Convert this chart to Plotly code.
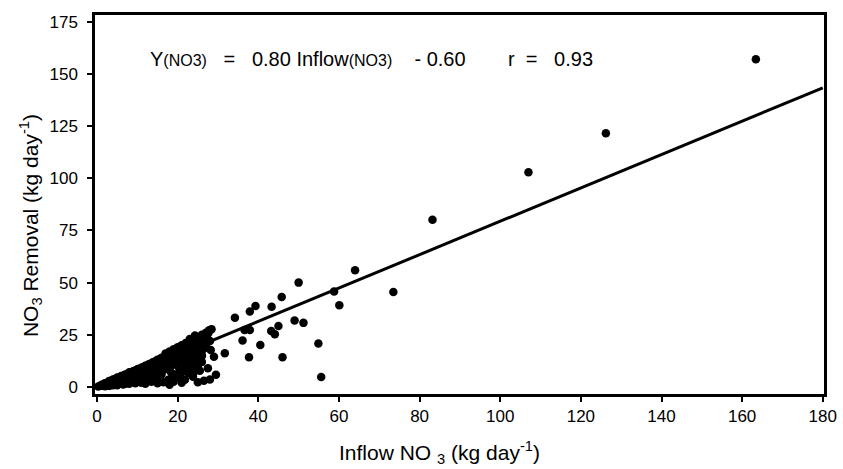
import plotly.graph_objects as go

# Inflow NO3 (kg/day) and NO3 removal (kg/day)
inflow = [
    # dense band, upper edge
    0.3, 0.8, 1.2, 1.8, 2.3, 3.0, 3.5, 4.0, 4.6, 5.3, 6.0, 6.7, 7.4, 8.1, 8.9, 9.6,
    10.4, 11.2, 12.0, 12.8, 13.6, 14.5, 15.4, 16.3, 17.2, 18.1, 19.0, 19.8, 20.6,
    21.4, 22.2, 23.0, 23.8, 24.5, 25.2, 26.0, 27.0, 27.8, 24.3, 27.6, 28.4,
    # dense band, middle
    1.0, 2.0, 3.2, 4.3, 5.6, 7.0, 8.5, 9.2, 10.0, 10.8, 11.6, 12.4, 13.2, 14.0,
    15.0, 15.9, 16.8, 17.7, 18.6, 19.5, 20.5, 21.5, 22.5, 23.5, 24.5, 25.3,
    2.0, 3.0, 4.0, 5.0, 6.0, 7.0, 8.0, 9.0, 10.0, 11.0, 12.0, 13.0, 14.0, 15.0,
    16.0, 17.0, 18.0, 19.0, 20.0, 21.0, 22.0, 23.0, 24.0, 25.0, 26.0, 27.0, 28.0,
    22.0, 23.0, 25.0, 26.0, 27.0,
    # dense band, lower edge
    1.5, 2.6, 3.8, 5.0, 6.3, 7.8, 9.0, 10.2, 11.0, 12.2, 13.4, 14.6, 15.6, 16.6,
    17.5, 18.4, 19.3, 20.2, 21.2, 22.3, 23.4, 24.5, 25.6, 26.4,
    13.0, 14.0, 15.0, 16.0, 17.0, 18.0, 19.0, 20.0, 21.0, 21.0, 22.0, 23.0, 23.0,
    24.0, 25.0, 25.0, 26.0,
    # close to the axis
    5.0, 8.0, 11.0, 13.5, 16.5, 19.0, 6.5, 9.5, 2.0, 3.0, 4.0, 7.0, 10.0, 12.0,
    15.0, 18.0, 21.0, 25.0, 28.0,
    # scatter under the band
    16.1, 17.7, 20.6, 22.7, 19.0, 14.9, 23.8, 21.8, 25.5, 26.5, 29.5, 29.0, 28.2,
    31.7, 12.5, 10.5, 18.5, 24.0, 26.0, 27.5, 22.0, 20.5,
    # mid range
    34.2, 37.9, 39.3, 43.3, 45.8, 50.0, 49.0, 51.2, 45.0, 43.2, 44.1, 36.6, 37.9,
    36.1, 40.5, 54.9, 37.7, 46.0, 55.6, 64.0, 73.5, 58.8, 60.1,
    # high loads
    83.2, 107.0, 126.2, 163.4,
]
removal = [
    0.2, 0.6, 1.0, 1.5, 1.9, 2.5, 2.9, 3.4, 3.8, 4.4, 5.0, 5.6, 6.1, 6.8, 7.4, 8.0,
    8.7, 9.4, 10.1, 10.8, 11.5, 12.3, 13.1, 13.9, 14.8, 15.6, 16.5, 17.2, 18.1,
    19.0, 19.8, 20.6, 21.5, 22.6, 23.8, 25.0, 26.0, 27.2, 24.6, 25.7, 27.7,
    0.6, 1.3, 2.0, 2.8, 3.6, 4.6, 5.8, 6.4, 6.5, 7.2, 7.8, 8.5, 9.0, 9.8,
    10.6, 11.0, 11.9, 12.5, 13.4, 14.2, 15.0, 16.0, 17.1, 18.0, 19.0, 20.3,
    1.8, 2.8, 3.6, 4.5, 5.2, 6.0, 7.0, 7.5, 8.5, 9.0, 10.0, 11.0, 12.0, 13.0,
    14.0, 16.0, 17.0, 18.0, 19.0, 20.0, 21.0, 23.0, 20.0, 22.0, 21.0, 22.0, 22.0,
    11.0, 12.0, 10.0, 15.0, 20.0,
    0.5, 1.0, 1.6, 2.2, 2.8, 3.5, 4.2, 4.6, 5.2, 5.5, 6.2, 6.8, 7.5, 8.4,
    9.0, 10.2, 11.0, 11.8, 12.6, 13.3, 14.5, 15.8, 17.0, 18.2,
    7.0, 5.0, 8.0, 6.0, 10.0, 8.0, 6.0, 10.0, 7.0, 14.0, 11.0, 9.0, 12.0,
    7.0, 13.0, 10.0, 15.0,
    0.8, 1.5, 2.0, 2.5, 2.2, 2.5, 1.2, 1.8, 0.3, 0.5, 0.8, 1.5, 2.5, 1.5,
    1.8, 1.0, 2.0, 2.2, 3.5,
    9.7, 3.4, 4.1, 6.6, 12.1, 4.1, 4.9, 3.4, 7.8, 2.9, 5.8, 14.5, 17.7,
    16.1, 3.0, 3.5, 6.5, 10.5, 12.0, 9.0, 9.0, 8.0,
    33.2, 36.1, 38.8, 38.4, 43.1, 50.0, 31.8, 30.7, 29.2, 26.8, 25.3, 27.3, 27.3,
    22.2, 20.1, 20.8, 14.2, 14.2, 4.8, 55.9, 45.5, 45.7, 39.2,
    80.1, 102.9, 121.6, 157.1,
]

# regression reported on the chart
slope = 0.80
intercept = -0.60
r_value = 0.93
fit_x = [0, 180]
fit_y = [slope * v + intercept for v in fit_x]

x_ticks = [0, 20, 40, 60, 80, 100, 120, 140, 160, 180]
y_ticks = [0, 25, 50, 75, 100, 125, 150, 175]

fig = go.Figure()
fig.add_trace(go.Scatter(
    x=inflow, y=removal, mode='markers',
    marker=dict(color='black', size=8.5, line=dict(width=0)),
    showlegend=False, hoverinfo='skip'
))
fig.add_trace(go.Scatter(
    x=fit_x, y=fit_y, mode='lines',
    line=dict(color='black', width=3),
    showlegend=False, hoverinfo='skip'
))

# equation text
sp = '&nbsp;'
small = '<span style="font-size:16px">(NO3)</span>'
eq = (f"Y{small}{sp*3}={sp*3}{slope:.2f}{sp}Inflow{small}{sp*4}-{sp}"
      f"{abs(intercept):.2f}")
fig.add_annotation(
    x=12.6, y=157.0, xref='x', yref='y', xanchor='left', yanchor='middle',
    text=eq, showarrow=False, font=dict(size=20, color='black')
)
fig.add_annotation(
    x=101.5, y=157.0, xref='x', yref='y', xanchor='left', yanchor='middle',
    text=f"r{sp*2}={sp*3}{r_value:.2f}", showarrow=False,
    font=dict(size=20, color='black')
)

# axis titles as annotations, placed from the plot area edges
fig.add_annotation(
    x=0.472, y=0, xref='paper', yref='paper', yshift=-58,
    xanchor='center', yanchor='middle', showarrow=False,
    text='Inflow NO <sub>3</sub> (kg day<sup>-1</sup>)',
    font=dict(size=21, color='black')
)
fig.add_annotation(
    x=0, y=0.443, xref='paper', yref='paper', xshift=-65,
    xanchor='center', yanchor='middle', showarrow=False, textangle=-90,
    text='NO<sub>3</sub> Removal (kg day<sup>-1</sup>)',
    font=dict(size=21, color='black')
)

axis_common = dict(
    showgrid=False, zeroline=False, showline=True, linecolor='black',
    linewidth=2.5, mirror=True, ticks='outside', tickcolor='black',
    ticklen=5, tickwidth=2, tickfont=dict(size=17, color='black'),
    automargin=False,
)
fig.update_xaxes(range=[-0.5, 180.3], tickvals=x_ticks, **axis_common)
fig.update_yaxes(range=[-3.4, 178.3], tickvals=y_ticks, ticklabelstandoff=6,
                 **axis_common)
fig.update_layout(
    width=843, height=469,
    margin=dict(l=95, r=19, t=15, b=75),
    paper_bgcolor='white', plot_bgcolor='white',
    font=dict(family='Liberation Sans, Arial, sans-serif', color='black'),
)

# drop the default page margin so the figure fills the window exactly
fig.write_html("out.html", config={'displayModeBar': False}, post_script=(
    "document.body.style.margin='0';document.body.style.overflow='hidden';"))
